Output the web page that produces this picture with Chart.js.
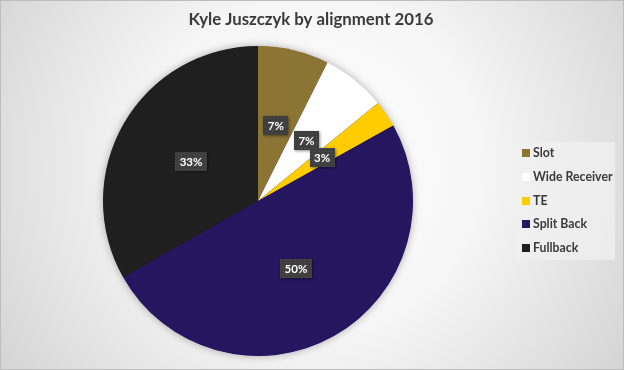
<!DOCTYPE html>
<html>
<head>
<meta charset="utf-8">
<script src="https://cdn.jsdelivr.net/npm/chart.js@4.4.0/dist/chart.umd.min.js"></script>
<style>
  html, body { margin: 0; padding: 0; background: #fff; }
  #wrap { width: 624px; height: 370px; }
</style>
</head>
<body>
<div id="wrap"><canvas id="chart" width="624" height="370"></canvas></div>
<script>
const chartTitle = "Kyle Juszczyk by alignment 2016"
const categories = ["Slot", "Wide Receiver", "TE", "Split Back", "Fullback"]
const shares = [7.4, 6.7, 2.8, 49.9, 33.2]
const sliceColors = ["#8B7434", "#FFFFFF", "#FFCC00", "#24165F", "#1F1F1F"]

const fontFamily = "Lato, 'Open Sans', sans-serif"
const textColor = "#3A3A3A"

// dotted fill used behind the percentage labels
const makeDotPattern = (ctx) => {
  const tile = document.createElement("canvas")
  tile.width = 3
  tile.height = 3
  const t = tile.getContext("2d")
  t.fillStyle = "#3E3E3E"
  t.fillRect(0, 0, 3, 3)
  t.fillStyle = "#505050"
  t.fillRect(1, 1, 1, 1)
  return ctx.createPattern(tile, "repeat")
}

const backdrop = {
  id: "backdrop",
  beforeDraw(chart) {
    const { ctx, width, height } = chart
    const g = ctx.createRadialGradient(width * 0.5, height * 0.45, 0, width * 0.5, height * 0.45, width * 0.6)
    g.addColorStop(0, "#FFFFFF")
    g.addColorStop(0.45, "#F6F6F6")
    g.addColorStop(1, "#D4D4D4")
    ctx.save()
    ctx.fillStyle = g
    ctx.fillRect(0, 0, width, height)
    ctx.strokeStyle = "#BDBDBD"
    ctx.lineWidth = 1
    ctx.strokeRect(0.5, 0.5, width - 1, height - 1)
    ctx.restore()
  }
}

// title is centred on the whole canvas, not on the pie area
const canvasTitle = {
  id: "canvasTitle",
  afterDraw(chart) {
    const { ctx, width } = chart
    ctx.save()
    ctx.font = `bold 16.8px ${fontFamily}`
    ctx.fillStyle = textColor
    ctx.textAlign = "center"
    ctx.textBaseline = "middle"
    ctx.fillText(chartTitle, width / 2 - 1, 20)
    ctx.restore()
  }
}

const pieShadow = {
  id: "pieShadow",
  beforeDatasetsDraw(chart) {
    const arc = chart.getDatasetMeta(0).data[0]
    if (!arc) return
    const { ctx } = chart
    ctx.save()
    ctx.shadowColor = "rgba(0, 0, 0, 0.35)"
    ctx.shadowBlur = 9
    ctx.fillStyle = "#24165F"
    ctx.beginPath()
    ctx.arc(arc.x, arc.y, arc.outerRadius - 0.5, 0, Math.PI * 2)
    ctx.fill()
    ctx.restore()
  }
}

const sliceLabels = {
  id: "sliceLabels",
  afterDatasetsDraw(chart) {
    const { ctx } = chart
    const meta = chart.getDatasetMeta(0)
    const values = chart.data.datasets[0].data
    const pattern = makeDotPattern(ctx)
    ctx.save()
    ctx.font = `bold 11.5px ${fontFamily}`
    ctx.textAlign = "center"
    ctx.textBaseline = "middle"
    meta.data.forEach((arc, i) => {
      const pos = arc.tooltipPosition()
      const text = Math.round(values[i]) + "%"
      const w = ctx.measureText(text).width + 9
      const h = 19
      ctx.save()
      ctx.shadowColor = "rgba(0, 0, 0, 0.45)"
      ctx.shadowBlur = 3
      ctx.shadowOffsetX = 1
      ctx.shadowOffsetY = 1
      ctx.fillStyle = pattern
      ctx.fillRect(Math.round(pos.x - w / 2), Math.round(pos.y - h / 2), Math.round(w), h)
      ctx.restore()
      ctx.fillStyle = "#FFFFFF"
      ctx.fillText(text, pos.x, pos.y + 0.5)
    })
    ctx.restore()
  }
}

const sideLegend = {
  id: "sideLegend",
  afterDraw(chart) {
    const { ctx } = chart
    const colors = chart.data.datasets[0].backgroundColor
    const left = chart.chartArea.right
    const top = 142
    ctx.save()
    ctx.fillStyle = "rgba(240, 240, 240, 0.75)"
    ctx.fillRect(left, top, 99, 118)
    ctx.font = `bold 12.3px ${fontFamily}`
    ctx.textBaseline = "middle"
    chart.data.labels.forEach((label, i) => {
      const y = top + 11 + i * 23.8
      ctx.fillStyle = colors[i]
      ctx.fillRect(left + 6, Math.round(y - 4), 8, 8)
      ctx.fillStyle = textColor
      ctx.fillText(label, left + 17, y)
    })
    ctx.restore()
  }
}

new Chart(document.getElementById("chart"), {
  type: "pie",
  data: {
    labels: categories,
    datasets: [{
      data: shares,
      backgroundColor: sliceColors,
      borderWidth: 0
    }]
  },
  options: {
    responsive: false,
    animation: false,
    layout: { padding: { top: 46, bottom: 14, left: 0, right: 108 } },
    plugins: {
      title: { display: false },
      legend: { display: false },
      tooltip: { enabled: false }
    }
  },
  plugins: [backdrop, pieShadow, sliceLabels, sideLegend, canvasTitle]
})
</script>
</body>
</html>
